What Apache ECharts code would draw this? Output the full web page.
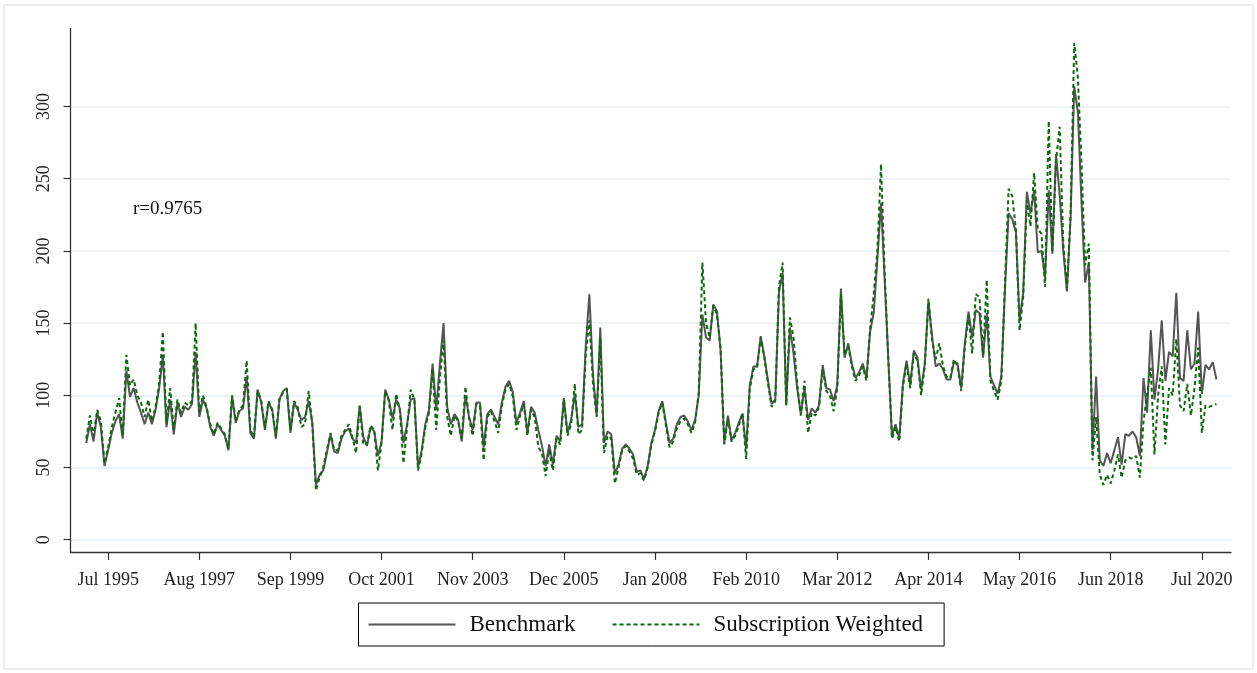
<!DOCTYPE html>
<html><head><meta charset="utf-8">
<script src="https://cdn.jsdelivr.net/npm/echarts@6/dist/echarts.min.js"></script>
<style>html,body{margin:0;padding:0;background:#fff}#c{width:1257px;height:673px}</style>
</head><body><div id="c"></div>
<script>
// Monthly series, Jan 1995 .. Nov 2020
const startYear = 1995;
const monthNames = ['Jan','Feb','Mar','Apr','May','Jun','Jul','Aug','Sep','Oct','Nov','Dec'];

const benchmark = [
 67,80,68,88,78,51,62,74,82,87,70,117,
 99,105,95,88,80,88,80,90,105,128,78,97,
 73,95,85,92,90,94,130,85,97,91,78,72,
 80,76,72,62,99,81,89,91,113,74,70,104,
 95,76,95,90,70,97,103,105,74,95,90,83,
 85,96,81,38,45,48,60,73,61,60,70,75,
 77,70,67,93,71,65,78,75,58,68,104,97,
 84,97,91,67,80,97,98,50,62,80,90,122,
 90,122,150,92,80,87,83,68,100,85,76,95,
 95,64,87,90,85,80,95,106,110,102,81,88,
 96,74,92,88,76,65,51,66,52,72,68,98,
 74,83,101,78,80,134,170,114,86,147,67,75,
 73,46,52,63,66,63,59,47,48,42,51,67,
 76,89,96,81,67,70,80,85,86,82,76,83,
 100,156,140,138,163,158,131,67,86,69,74,81,
 87,63,107,120,120,141,127,110,94,97,171,185,
 94,147,129,105,87,105,83,91,88,93,121,105,
 104,96,107,174,126,136,122,112,116,122,112,144,
 157,194,233,180,125,72,80,70,108,124,107,131,
 126,104,122,165,141,120,122,118,111,111,123,122,
 105,136,158,140,159,157,126,157,113,107,101,113,
 173,226,222,213,152,171,241,226,242,199,200,182,
 242,198,267,239,200,172,223,314,296,233,178,192,
 62,113,55,51,60,53,62,71,52,73,72,75,
 71,58,112,88,145,97,118,152,110,130,127,171,
 112,110,145,118,122,158,101,121,118,123,111
];
const subscriptionWeighted = [
 70,86,72,90,82,53,64,78,88,98,72,128,
 107,111,100,95,85,97,82,92,108,144,80,105,
 76,97,88,95,93,96,150,88,100,92,80,73,
 81,77,73,63,100,82,90,93,124,76,71,103,
 96,77,96,90,72,98,102,104,76,96,92,78,
 80,103,80,34,43,50,62,74,62,62,72,76,
 80,71,60,92,66,66,79,76,48,67,103,96,
 76,101,90,53,78,104,97,48,60,78,88,118,
 76,112,138,85,72,86,82,70,106,84,72,94,
 93,55,85,89,82,74,93,104,108,99,76,86,
 94,72,90,85,64,60,44,62,48,70,66,97,
 72,80,108,73,76,128,152,108,85,140,60,72,
 70,39,50,62,65,61,56,45,46,41,50,66,
 75,88,95,79,64,68,77,82,84,80,74,81,
 102,192,150,140,162,156,132,66,84,68,72,79,
 88,56,104,118,119,140,126,108,92,96,175,192,
 93,154,140,108,86,110,74,88,86,92,118,103,
 100,89,105,170,128,134,120,110,114,120,110,146,
 170,200,260,185,125,70,78,68,106,122,105,129,
 124,100,120,167,138,125,136,120,113,112,125,120,
 103,134,155,129,170,168,128,180,110,103,97,110,
 178,243,238,215,145,168,235,217,254,215,212,175,
 290,200,262,286,205,174,225,344,320,260,190,205,
 55,85,45,38,45,39,48,59,43,55,57,56,
 58,43,82,101,119,59,100,120,66,105,100,139,
 93,89,108,86,105,133,74,93,92,93,94
];
const xTickLabels = ['Jul 1995','Aug 1997','Sep 1999','Oct 2001','Nov 2003','Dec 2005','Jan 2008','Feb 2010','Mar 2012','Apr 2014','May 2016','Jun 2018','Jul 2020'];
const yTickValues = [0,50,100,150,200,250,300];
const seriesNames = ['Benchmark','Subscription Weighted'];
const corrText = 'r=0.9765';

const months = benchmark.map((_, i) => monthNames[i % 12] + ' ' + (startYear + Math.floor(i / 12)));
const xTickValues = xTickLabels.map(l => months.indexOf(l));

const font = 'Liberation Serif, Times New Roman, serif';
const chart = echarts.init(document.getElementById('c'), null, {renderer: 'canvas'});
chart.setOption({
  animation: false,
  backgroundColor: '#fff',
  grid: {left: 70.6, right: 26, top: 28.5, bottom: 121, containLabel: false},
  xAxis: {
    type: 'value', min: -4.3, max: 314,
    axisLine: {show: true, onZero: false, lineStyle: {color: '#333', width: 1.3}},
    axisTick: {show: true, length: 8, customValues: xTickValues, lineStyle: {color: '#333', width: 1.2}},
    axisLabel: {customValues: xTickValues, formatter: v => months[v], margin: 19,
      fontFamily: font, fontSize: 18, color: '#222'},
    splitLine: {show: false}
  },
  yAxis: {
    type: 'value', min: -8.5, max: 354,
    axisLine: {show: true, onZero: false, lineStyle: {color: '#333', width: 1.3}},
    axisTick: {show: true, length: 7, customValues: yTickValues, lineStyle: {color: '#333', width: 1.2}},
    axisLabel: {customValues: yTickValues, rotate: 90, margin: 17,
      fontFamily: font, fontSize: 18, color: '#222'},
    splitLine: {show: true, lineStyle: {color: '#e6eef2', width: 1.5}}
  },
  legend: {
    left: 358.5, top: 603, orient: 'horizontal',
    data: seriesNames,
    itemWidth: 87, itemHeight: 14, itemGap: 36,
    padding: [10, 21, 10, 9],
    borderColor: '#000', borderWidth: 1,
    itemStyle: {color: 'rgba(0,0,0,0)', borderColor: 'rgba(0,0,0,0)', borderWidth: 0},
    textStyle: {fontFamily: font, fontSize: 23, color: '#111', padding: [0, 0, 0, 9]}
  },
  graphic: [
    {type: 'rect', shape: {x: 4, y: 5, width: 1249, height: 664},
     style: {fill: 'none', stroke: '#e4ebef', lineWidth: 1.5}, silent: true, z: -10},
    {type: 'text', left: 133, top: 200,
     style: {text: corrText, font: '19px ' + font, fill: '#111'}}
  ],
  series: [
    {name: seriesNames[0], type: 'line', symbol: 'none',
     data: benchmark.map((v, i) => [i, v]),
     lineStyle: {color: '#555555', width: 2}, itemStyle: {color: '#555555'}, z: 2},
    {name: seriesNames[1], type: 'line', symbol: 'none',
     data: subscriptionWeighted.map((v, i) => [i, v]),
     lineStyle: {color: '#0c6a0c', width: 2, type: [4, 3]}, itemStyle: {color: '#0c6a0c'}, z: 3}
  ]
});
</script></body></html>
